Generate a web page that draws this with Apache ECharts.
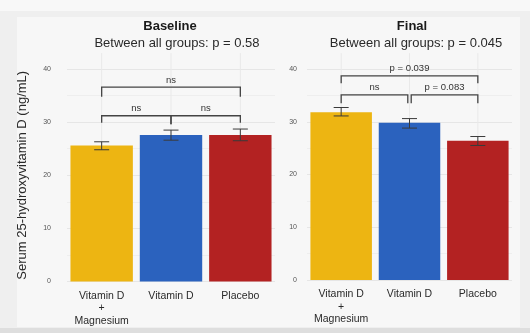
<!DOCTYPE html>
<html>
<head>
<meta charset="utf-8">
<script src="https://cdn.jsdelivr.net/npm/echarts@6/dist/echarts.min.js"></script>
<style>
  html, body { margin: 0; padding: 0; background: #efefef; }
  #chart { width: 530px; height: 333px; }
</style>
</head>
<body>
<div id="chart"></div>
<script>
// Groups shown in both panels
const categories = ['Vitamin D\n+\nMagnesium', 'Vitamin D', 'Placebo'];
const barColors = ['#EDB512', '#2B62BE', '#B32222'];

// Mean serum 25(OH)D (ng/mL) with error-bar limits
const baselineMeans = [25.6, 27.6, 27.6];
const baselineLow = [24.8, 26.6, 26.5];
const baselineHigh = [26.3, 28.5, 28.7];

const finalMeans = [31.8, 29.8, 26.4];
const finalLow = [31.1, 28.8, 25.5];
const finalHigh = [32.7, 30.6, 27.2];

// Pairwise comparisons: [from group, to group, bracket level, end level at from, end level at to, label]
const baselineBrackets = [
  [0, 2, 36.6, 34.8, 34.8, 'ns'],
  [0, 1, 31.2, 29.9, 29.6, 'ns'],
  [1, 2, 31.2, 29.6, 29.9, 'ns']
];
const finalBrackets = [
  [0, 2, 38.7, 37.3, 37.3, 'p = 0.039'],
  [0, 1, 35.1, 33.5, 33.5, 'ns'],
  [1, 2, 35.1, 33.5, 33.5, 'p = 0.083']
];

const panelTitles = ['Baseline', 'Final'];
const panelSubtitles = ['Between all groups: p = 0.58', 'Between all groups: p = 0.045'];
const yTicks = [0, 10, 20, 30, 40];
const yAxisName = 'Serum 25-hydroxyvitamin D (ng/mL)';

const chart = echarts.init(document.getElementById('chart'), null, { renderer: 'canvas' });

const textColor = '#2a2a2a';
const fontFamily = 'Liberation Sans, Arial, sans-serif';

function barSeries(idx, means) {
  return {
    type: 'bar',
    xAxisIndex: idx, yAxisIndex: idx,
    barCategoryGap: '10%',
    data: means.map((v, i) => ({ value: v, itemStyle: { color: barColors[i] } })),
    silent: true,
    z: 2
  };
}

function errorSeries(idx, low, high) {
  return {
    type: 'custom',
    xAxisIndex: idx, yAxisIndex: idx,
    data: low.map((l, i) => [i, l, high[i]]),
    silent: true,
    z: 5,
    renderItem: function (params, api) {
      const lo = api.coord([api.value(0), api.value(1)]);
      const hi = api.coord([api.value(0), api.value(2)]);
      const half = 7.5;
      const style = { stroke: '#3a3a3a', lineWidth: 1 };
      return {
        type: 'group',
        children: [
          { type: 'line', shape: { x1: lo[0], y1: lo[1], x2: hi[0], y2: hi[1] }, style },
          { type: 'line', shape: { x1: lo[0] - half, y1: lo[1], x2: lo[0] + half, y2: lo[1] }, style },
          { type: 'line', shape: { x1: hi[0] - half, y1: hi[1], x2: hi[0] + half, y2: hi[1] }, style }
        ]
      };
    }
  };
}

function bracketSeries(idx, brackets, gap) {
  return {
    type: 'custom',
    xAxisIndex: idx, yAxisIndex: idx,
    data: brackets.map(b => [b[0], b[1], b[2], b[3], b[4]]),
    silent: true,
    z: 6,
    renderItem: function (params, api) {
      const b = brackets[params.dataIndex];
      const a = api.coord([api.value(0), api.value(2)]);
      const c = api.coord([api.value(1), api.value(2)]);
      const aEnd = api.coord([api.value(0), api.value(3)]);
      const cEnd = api.coord([api.value(1), api.value(4)]);
      // adjoining brackets leave a small gap where they meet at a shared group
      const spanA = api.value(0) === 1 ? gap : 0;
      const spanC = api.value(1) === 1 ? -gap : 0;
      const x1 = a[0] + spanA, x2 = c[0] + spanC;
      const style = { stroke: '#444', lineWidth: 1.3, fill: null };
      return {
        type: 'group',
        children: [
          { type: 'polyline', shape: { points: [[x1, aEnd[1]], [x1, a[1]], [x2, c[1]], [x2, cEnd[1]]] }, style },
          {
            type: 'text',
            style: {
              x: (x1 + x2) / 2, y: a[1] - 7,
              text: b[5], align: 'center', verticalAlign: 'middle',
              fill: '#333', font: '9.5px ' + fontFamily
            }
          }
        ]
      };
    }
  };
}

function centerLineSeries(idx) {
  return {
    type: 'custom',
    xAxisIndex: idx, yAxisIndex: idx,
    data: categories.map((c, i) => [i]),
    silent: true,
    z: 0,
    renderItem: function (params, api) {
      const p0 = api.coord([api.value(0), 0]);
      const p1 = api.coord([api.value(0), 43]);
      return { type: 'line', shape: { x1: p0[0], y1: p0[1], x2: p1[0], y2: p1[1] }, style: { stroke: '#e9e9e9', lineWidth: 1 } };
    }
  };
}

function xAxis(idx) {
  return {
    type: 'category', gridIndex: idx, data: categories,
    axisLine: { show: false }, axisTick: { show: false },
    axisLabel: { color: textColor, fontSize: 10.5, lineHeight: 12.5, margin: 8, interval: 0, fontFamily },
    splitLine: { show: false }
  };
}

function yAxis(idx, margin, withName) {
  const ax = {
    type: 'value', gridIndex: idx, min: 0, max: 40, interval: 10,
    axisLine: { show: false }, axisTick: { show: false },
    axisLabel: { color: '#555', fontSize: 7, margin, fontFamily,
      formatter: v => yTicks.includes(v) ? String(v) : '' },
    splitLine: { lineStyle: { color: '#e6e6e6', width: 1 } },
    minorTick: { show: false, splitNumber: 2 },
    minorSplitLine: { show: true, lineStyle: { color: '#eeeeee', width: 1 } }
  };
  if (withName) {
    Object.assign(ax, {
      name: yAxisName, nameLocation: 'middle', nameGap: 38, nameRotate: 90,
      nameTextStyle: { color: textColor, fontSize: 13, fontFamily }
    });
  }
  return ax;
}

chart.setOption({
  backgroundColor: '#efefef',
  animation: false,
  graphic: [
    { type: 'rect', shape: { x: 0, y: 0, width: 530, height: 11 }, style: { fill: '#f8f8f8' }, z: -10 },
    { type: 'rect', shape: { x: 17, y: 17, width: 503, height: 310 }, style: { fill: '#f7f7f7' }, z: -9 },
    { type: 'rect', shape: { x: 0, y: 328, width: 530, height: 5 }, style: { fill: '#dedede' }, z: -9 }
  ],
  title: [
    { text: panelTitles[0], left: 165, top: 15, textAlign: 'center',
      textStyle: { fontSize: 13, fontWeight: 'bold', color: '#1a1a1a', fontFamily } },
    { text: panelSubtitles[0], left: 172, top: 32, textAlign: 'center',
      textStyle: { fontSize: 13, fontWeight: 'normal', color: textColor, fontFamily } },
    { text: panelTitles[1], left: 407, top: 15, textAlign: 'center',
      textStyle: { fontSize: 13, fontWeight: 'bold', color: '#1a1a1a', fontFamily } },
    { text: panelSubtitles[1], left: 411, top: 32, textAlign: 'center',
      textStyle: { fontSize: 13, fontWeight: 'normal', color: textColor, fontFamily } }
  ],
  grid: [
    { left: 67, top: 69, width: 208, height: 212.5 },
    { left: 307, top: 69, width: 205, height: 211 }
  ],
  xAxis: [xAxis(0), xAxis(1)],
  yAxis: [yAxis(0, 16, true), yAxis(1, 10, false)],
  series: [
    centerLineSeries(0),
    centerLineSeries(1),
    barSeries(0, baselineMeans),
    barSeries(1, finalMeans),
    errorSeries(0, baselineLow, baselineHigh),
    errorSeries(1, finalLow, finalHigh),
    bracketSeries(0, baselineBrackets, 0),
    bracketSeries(1, finalBrackets, 1.7)
  ]
});
</script>
</body>
</html>
